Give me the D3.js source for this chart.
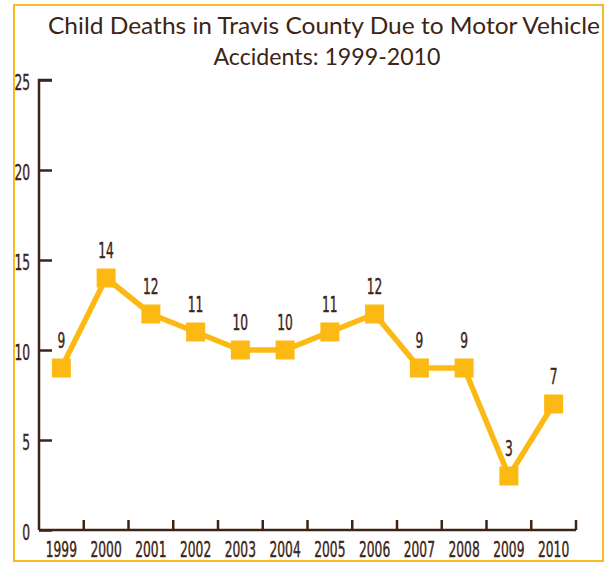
<!DOCTYPE html>
<html>
<head>
    <title>Child Deaths in Travis County</title>
    <script src="https://d3js.org/d3.v7.min.js"></script>
    <style>
        html, body {
            margin: 0;
            padding: 0;
            background: white;
        }
        .cond {
            font-family: "DejaVu Sans Condensed", "DejaVu Sans", sans-serif;
            font-size: 21px;
            stroke: #3d2416;
            stroke-width: 0.4px;
        }
    </style>
</head>
<body>
<div id="chart"></div>
<script>
    // chart data
    const years = ['1999', '2000', '2001', '2002', '2003', '2004', '2005', '2006', '2007', '2008', '2009', '2010'];
    const deaths = [9, 14, 12, 11, 10, 10, 11, 12, 9, 9, 3, 7];
    const yTicks = [0, 5, 10, 15, 20, 25];
    const titleLines = ['Child Deaths in Travis County Due to Motor Vehicle', 'Accidents: 1999-2010'];

    const width = 608;
    const height = 564;
    const brown = '#3d2416';
    const gold = '#fdb913';
    const digitW = 7.8; // the labels use a very narrow face, squeeze glyphs to fit

    const svg = d3.select('#chart')
        .append('svg')
        .attr('width', width)
        .attr('height', height);

    // gold frame round the whole chart
    svg.append('rect')
        .attr('x', 14)
        .attr('y', 5)
        .attr('width', 589)
        .attr('height', 556)
        .attr('fill', 'none')
        .attr('stroke', '#f9b923')
        .attr('stroke-width', 2);

    // title
    const titleWidths = [552, 227];
    svg.selectAll('.title')
        .data(titleLines)
        .enter()
        .append('text')
        .attr('class', 'title')
        .text(d => d)
        .attr('x', (d, i) => i ? 327 : 324)
        .attr('y', (d, i) => 34 + i * 31)
        .attr('text-anchor', 'middle')
        .attr('textLength', (d, i) => titleWidths[i])
        .attr('lengthAdjust', 'spacingAndGlyphs')
        .attr('fill', brown)
        .style('font-family', 'Lato, "Open Sans", sans-serif')
        .style('font-size', '24px');

    const x = d3.scaleBand()
        .domain(years)
        .range([39, 576]);

    const y = d3.scaleLinear()
        .domain([0, 25])
        .range([530, 80]);

    // y axis, ticks pointing into the plot
    const yAxis = svg.append('g')
        .attr('transform', 'translate(39,0)')
        .call(d3.axisRight(y).tickValues(yTicks).tickSize(13).tickFormat(''));
    yAxis.select('.domain')
        .attr('d', `M13,${y(25)}H0V${y(0)}`);
    yAxis.selectAll('line, path')
        .attr('stroke', brown)
        .attr('stroke-width', 2.5);

    svg.selectAll('.ylab')
        .data(yTicks)
        .enter()
        .append('text')
        .attr('class', 'cond')
        .text(d => d)
        .attr('x', 30)
        .attr('y', d => y(d) + 10)
        .attr('text-anchor', 'end')
        .attr('textLength', d => String(d).length * digitW)
        .attr('lengthAdjust', 'spacingAndGlyphs')
        .attr('fill', brown);

    // x axis, ticks on band edges pointing up
    const xEdges = years.map(d => x(d) + x.bandwidth());
    const xAxis = svg.append('g')
        .attr('transform', `translate(0,${y(0)})`);
    xAxis.append('path')
        .attr('d', `M39,0H${x.range()[1]}`)
        .attr('stroke', brown)
        .attr('stroke-width', 2.5)
        .attr('fill', 'none');
    xAxis.selectAll('line')
        .data(xEdges)
        .enter()
        .append('line')
        .attr('x1', d => d)
        .attr('x2', d => d)
        .attr('y1', 0)
        .attr('y2', -10)
        .attr('stroke', brown)
        .attr('stroke-width', 2.5);

    svg.selectAll('.xlab')
        .data(years)
        .enter()
        .append('text')
        .attr('class', 'cond')
        .text(d => d)
        .attr('x', d => x(d) + x.bandwidth() / 2)
        .attr('y', 557)
        .attr('text-anchor', 'middle')
        .attr('textLength', d => d.length * digitW)
        .attr('lengthAdjust', 'spacingAndGlyphs')
        .attr('fill', brown);

    // line + square markers
    const cx = (d, i) => x(years[i]) + x.bandwidth() / 2;
    const line = d3.line()
        .x(cx)
        .y(d => y(d));

    svg.append('path')
        .datum(deaths)
        .attr('d', line)
        .attr('fill', 'none')
        .attr('stroke', gold)
        .attr('stroke-width', 5.5)
        .attr('stroke-linejoin', 'round');

    const size = 19;
    svg.selectAll('.marker')
        .data(deaths)
        .enter()
        .append('rect')
        .attr('x', (d, i) => cx(d, i) - size / 2)
        .attr('y', d => y(d) - size / 2)
        .attr('width', size)
        .attr('height', size)
        .attr('fill', gold);

    // value labels
    svg.selectAll('.vlab')
        .data(deaths)
        .enter()
        .append('text')
        .attr('class', 'cond')
        .text(d => d)
        .attr('x', cx)
        .attr('y', d => y(d) - 20)
        .attr('text-anchor', 'middle')
        .attr('textLength', d => String(d).length * digitW)
        .attr('lengthAdjust', 'spacingAndGlyphs')
        .attr('fill', brown);
</script>
</body>
</html>
